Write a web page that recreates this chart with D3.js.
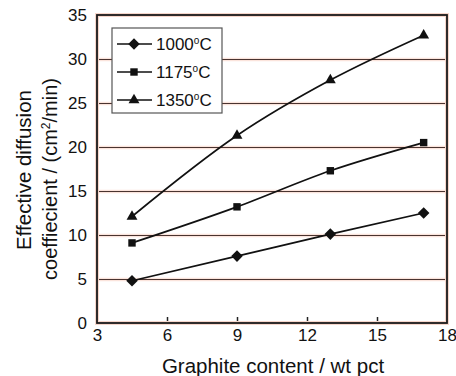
<!DOCTYPE html>
<html>
<head>
<meta charset="utf-8">
<script src="https://cdn.jsdelivr.net/npm/d3@7"></script>
<style>
  body { margin: 0; background: #fff; }
  text { font-family: "Liberation Sans", Arial, sans-serif; fill: #111; }
</style>
</head>
<body>
<svg id="chart" width="456" height="376"></svg>
<script>
// Data
var graphite = [4.5, 9, 13, 17];
var d1000 = [4.8, 7.6, 10.1, 12.5];
var d1175 = [9.1, 13.2, 17.3, 20.5];
var d1350 = [12.1, 21.3, 27.6, 32.7];
var seriesNames = ["1000", "1175", "1350"];
var xTicks = [3, 6, 9, 12, 15, 18];
var yTicks = [0, 5, 10, 15, 20, 25, 30, 35];

var series = [
  { name: seriesNames[0], values: d1000, symbol: d3.symbolDiamond2, size: 85 },
  { name: seriesNames[1], values: d1175, symbol: d3.symbolSquare2, size: 70 },
  { name: seriesNames[2], values: d1350, symbol: d3.symbolTriangle2, size: 85 }
];

var svg = d3.select("#chart");
var mLeft = 97, mRight = 447, mTop = 15, mBottom = 323;

var x = d3.scaleLinear().domain([3, 18]).range([mLeft, mRight]);
var y = d3.scaleLinear().domain([0, 35]).range([mBottom, mTop]);

// gridlines (with a faint reddish halo)
var gridVals = yTicks.slice(1, -1);
var grid = svg.append("g").attr("transform", "translate(0,0.5)");
grid.selectAll(null)
  .data(gridVals)
  .enter().append("line")
  .attr("x1", mLeft).attr("x2", mRight)
  .attr("y1", d => y(d)).attr("y2", d => y(d))
  .attr("stroke", "#fbe4dc").attr("stroke-width", 3.5);
grid.selectAll(null)
  .data(gridVals)
  .enter().append("line")
  .attr("x1", mLeft).attr("x2", mRight)
  .attr("y1", d => y(d)).attr("y2", d => y(d))
  .attr("stroke", "#4a3430").attr("stroke-width", 1);

// x axis: inward ticks
var xAxis = d3.axisBottom(x).tickValues(xTicks).tickSize(-6).tickPadding(6);
var gx = svg.append("g").attr("transform", "translate(0," + mBottom + ")").call(xAxis);
gx.select(".domain").remove();
gx.selectAll(".tick line").attr("stroke", "#222").attr("stroke-width", 1.5)
  .filter(d => d === 3 || d === 18).remove();
gx.selectAll("text").attr("font-family", null).style("font-size", "17px").attr("fill", "#111");

// y axis: labels only
var yAxis = d3.axisLeft(y).tickValues(yTicks).tickSize(0).tickPadding(10);
var gy = svg.append("g").attr("transform", "translate(" + mLeft + ",0)").call(yAxis);
gy.select(".domain").remove();
gy.selectAll("text").attr("font-family", null).style("font-size", "17px").attr("fill", "#111");

// frame
svg.append("rect")
  .attr("x", mLeft).attr("y", mTop)
  .attr("width", mRight - mLeft).attr("height", mBottom - mTop)
  .attr("fill", "none").attr("stroke", "#f6d6cb").attr("stroke-width", 4);
svg.append("rect")
  .attr("x", mLeft).attr("y", mTop)
  .attr("width", mRight - mLeft).attr("height", mBottom - mTop)
  .attr("fill", "none").attr("stroke", "#1a1a1a").attr("stroke-width", 1.8);

// lines and markers
var line = d3.line()
  .x((d, i) => x(graphite[i]))
  .y(d => y(d))
  .curve(d3.curveMonotoneX);

series.forEach(function (s) {
  svg.append("path")
    .attr("d", line(s.values))
    .attr("fill", "none")
    .attr("stroke", "#111")
    .attr("stroke-width", 1.7);
  svg.selectAll(null)
    .data(s.values)
    .enter().append("path")
    .attr("d", d3.symbol().type(s.symbol).size(s.size))
    .attr("transform", (d, i) => "translate(" + x(graphite[i]) + "," + y(d) + ")")
    .attr("fill", "#111");
});

// legend
var lg = svg.append("g");
lg.append("rect")
  .attr("x", 112).attr("y", 28).attr("width", 110).attr("height", 85)
  .attr("fill", "#fff").attr("stroke", "#555").attr("stroke-width", 1.2);
series.forEach(function (s, i) {
  var ly = 44 + i * 28;
  lg.append("line")
    .attr("x1", 117).attr("x2", 152).attr("y1", ly).attr("y2", ly)
    .attr("stroke", "#111").attr("stroke-width", 1.7);
  lg.append("path")
    .attr("d", d3.symbol().type(s.symbol).size(s.size))
    .attr("transform", "translate(134," + ly + ")")
    .attr("fill", "#111");
  var t = lg.append("text").attr("x", 156).attr("y", ly + 6).style("font-size", "17px");
  t.append("tspan").text(s.name);
  t.append("tspan").attr("dy", -6).style("font-size", "10px").text("o");
  t.append("tspan").attr("dy", 6).text("C");
});

// axis titles
svg.append("text")
  .attr("x", 273).attr("y", 373)
  .attr("text-anchor", "middle")
  .style("font-size", "20.5px")
  .text("Graphite content / wt pct");

svg.append("text")
  .attr("transform", "translate(31,170) rotate(-90)")
  .attr("text-anchor", "middle")
  .style("font-size", "20.5px")
  .text("Effective diffusion");

var yl = svg.append("text")
  .attr("transform", "translate(57,179) rotate(-90)")
  .attr("text-anchor", "middle")
  .style("font-size", "20px");
yl.append("tspan").text("coeffiecient / (cm");
yl.append("tspan").attr("dy", -7).style("font-size", "12px").text("2");
yl.append("tspan").attr("dy", 7).text("/min)");
</script>
</body>
</html>
